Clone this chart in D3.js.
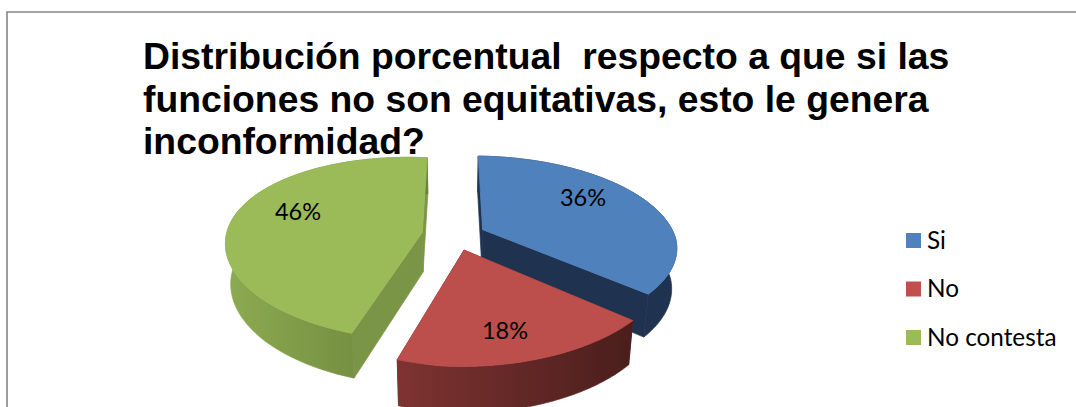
<!DOCTYPE html>
<html>
<head>
<meta charset="utf-8">
<script src="https://cdn.jsdelivr.net/npm/d3@7"></script>
<style>
  html, body { margin: 0; padding: 0; background: #fff; }
  svg { display: block; }
  text { white-space: pre; }
</style>
</head>
<body>
<svg id="chart" width="1076" height="407"></svg>
<script>
// Chart content
const categories = ["Si", "No", "No contesta"];
const percentages = [36, 18, 46];
const titleLines = [
  "Distribución porcentual  respecto a que si las",
  "funciones no son equitativas, esto le genera",
  "inconformidad?"
];
const topColors = ["#4f81bd", "#bc4e4b", "#9bbb59"];
const legendColors = ["#4f81bd", "#c0504d", "#9bbb59"];
const wallStops = [["#1f3350", "#1f3350"], ["#7e3331", "#4a1e1c"], ["#8cab51", "#6a8039"]];
const cutColors = ["#1f3350", "#5a2523", "#7b9546"];

const svg = d3.select("#chart");
const FRAME = { x: 7, y: 12 };

// Perspective set-up of the tilted, exploded pie
const view = { cx: 454, cy: 235.5, fx: 193, fy: 89, persp: 0.183, explode: 0.166,
               drop: 40, baseScaleX: 0.977, baseScaleY: 1.05,
               frontLean: 0.00055, frontSqueeze: 0.0002, tiltLeft: 0.045, tiltRight: 0.012 };

function project(X, Y, lower) {
  const w = 1 + view.persp * Y;
  let dx = view.fx * X / w, dy = -view.fy * Y / w;
  const front = Math.max(dy, 0);
  const tilt = dx < 0 ? view.tiltLeft : view.tiltRight;
  dy += tilt * dx;
  if (dx > 0) dx *= 1 - view.frontSqueeze * front;
  dx -= view.frontLean * front * front;
  return lower
    ? [view.cx + dx * view.baseScaleX, view.cy + view.drop + dy * view.baseScaleY]
    : [view.cx + dx, view.cy + dy];
}

const pieLayout = d3.pie().sort(null).value(d => d);
const slices = pieLayout(percentages).map((arc, i) => {
  const mid = (arc.startAngle + arc.endAngle) / 2;
  const ox = Math.sin(mid) * view.explode, oy = Math.cos(mid) * view.explode;
  const angles = d3.range(0, 73).map(k => arc.startAngle + (arc.endAngle - arc.startAngle) * k / 72);
  const rim = lower => angles.map(a => project(ox + Math.sin(a), oy + Math.cos(a), lower));
  return { i, value: arc.value,
           apexTop: project(ox, oy, false), apexLow: project(ox, oy, true),
           rimTop: rim(false), rimLow: rim(true),
           mid, ox, oy };
});

const outline = d3.line().curve(d3.curveLinear);
const defs = svg.append("defs");

// Frame: only the top and left edges fall inside the page
svg.append("path")
  .attr("d", `M${FRAME.x},407V${FRAME.y}H1076`)
  .attr("fill", "none").attr("stroke", "#868686").attr("stroke-width", 1.6);

// Paint back to front: green, blue, red
const pieG = svg.append("g");
[2, 0, 1].forEach(idx => {
  const s = slices[idx];
  const xs = s.rimTop.map(p => p[0]);
  const gradId = "wall" + idx;
  const grad = defs.append("linearGradient").attr("id", gradId)
    .attr("gradientUnits", "userSpaceOnUse")
    .attr("x1", d3.min(xs)).attr("x2", d3.max(xs)).attr("y1", 0).attr("y2", 0);
  grad.append("stop").attr("offset", 0).attr("stop-color", wallStops[idx][0]);
  grad.append("stop").attr("offset", 1).attr("stop-color", wallStops[idx][1]);

  const g = pieG.append("g");
  const first = 0, last = s.rimTop.length - 1;
  [first, last].forEach(e => {
    g.append("path")
      .attr("d", outline([s.apexTop, s.rimTop[e], s.rimLow[e], s.apexLow]) + "Z")
      .attr("fill", cutColors[idx])
      .attr("stroke", cutColors[idx]).attr("stroke-width", 0.7);
  });
  // Hairline strokes close the seams between faces; the top face hides their upper edge
  g.append("path")
    .attr("d", outline(s.rimTop.concat(s.rimLow.slice().reverse())) + "Z")
    .attr("fill", `url(#${gradId})`)
    .attr("stroke", `url(#${gradId})`).attr("stroke-width", 0.7);
  g.append("path")
    .attr("d", outline([s.apexTop].concat(s.rimTop)) + "Z")
    .attr("fill", topColors[idx])
    .attr("stroke", topColors[idx]).attr("stroke-width", 0.8);
});

// Percentage labels on the top faces
const labelAnchors = [[583, 206], [505, 339], [298, 220]];
pieG.selectAll("text.pct").data(slices).join("text")
  .attr("class", "pct")
  .attr("x", d => labelAnchors[d.i][0]).attr("y", d => labelAnchors[d.i][1])
  .attr("text-anchor", "middle")
  .attr("font-family", "Lato, Carlito, sans-serif").attr("font-size", 23.5).attr("fill", "#000")
  .text(d => d.value + "%");

// Title
svg.append("g").selectAll("text").data(titleLines).join("text")
  .attr("x", 143).attr("y", (d, i) => 69 + i * 42.6)
  .attr("font-family", "'Liberation Sans', Arial, sans-serif")
  .attr("font-weight", "bold").attr("font-size", 37.3).attr("fill", "#000")
  .text(d => d);

// Legend
const legendY = d3.scalePoint().domain(categories).range([240.5, 337.5]);
const legend = svg.append("g").selectAll("g").data(categories).join("g")
  .attr("transform", d => `translate(906,${legendY(d)})`);
legend.append("rect").attr("x", 0).attr("y", -7.5).attr("width", 15).attr("height", 15)
  .attr("fill", (d, i) => legendColors[i]);
legend.append("text").attr("x", 21).attr("y", 8)
  .attr("font-family", "Lato, Carlito, sans-serif").attr("font-size", 24.3).attr("fill", "#000")
  .text(d => d);
</script>
</body>
</html>
